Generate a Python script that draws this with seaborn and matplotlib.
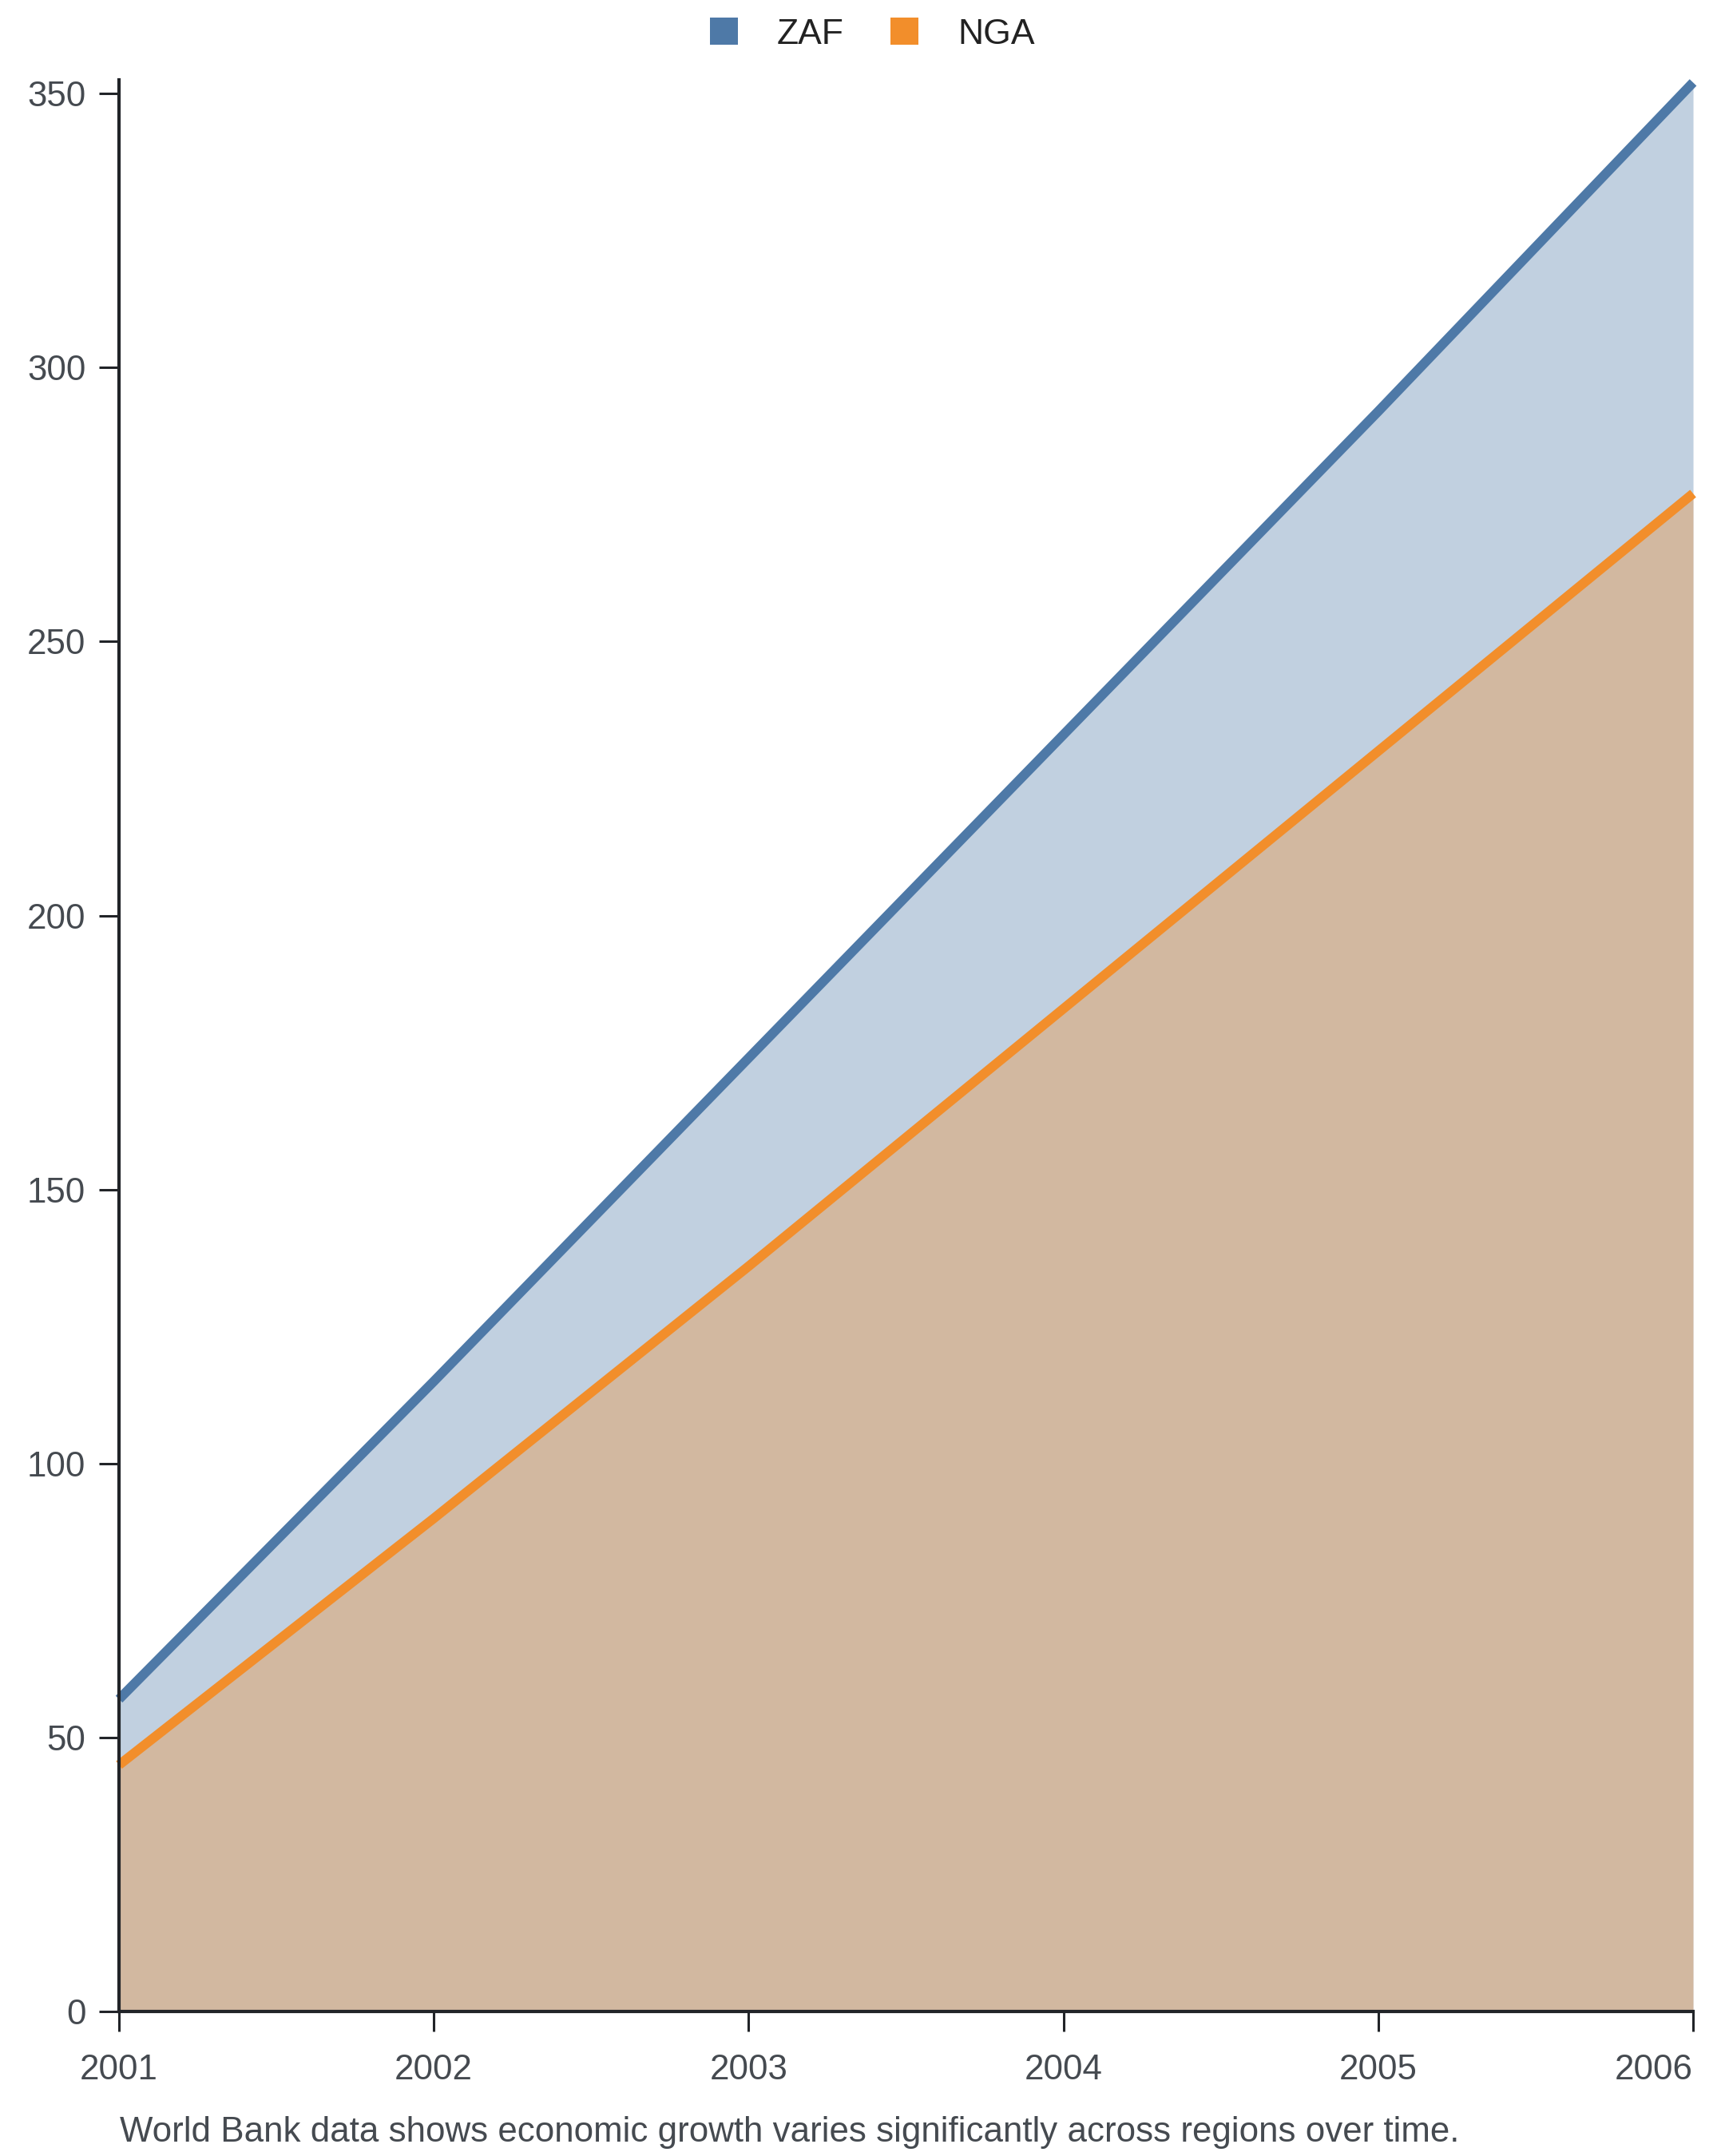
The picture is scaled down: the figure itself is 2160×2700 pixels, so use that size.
import matplotlib
matplotlib.use("Agg")
import matplotlib.pyplot as plt
import seaborn as sns
import pandas as pd
from matplotlib.patches import Patch

years = [2001, 2002, 2003, 2004, 2005, 2006]
zaf = [57, 115, 174, 233, 292, 352]
nga = [45, 90, 136, 183, 230, 277]
series_names = ["ZAF", "NGA"]
series_colors = ["#4e79a7", "#f28e2b"]
y_ticks = [0, 50, 100, 150, 200, 250, 300, 350]
caption = "World Bank data shows economic growth varies significantly across regions over time."

df = pd.DataFrame({
    "year": years * 2,
    "value": zaf + nga,
    "country": ["ZAF"] * len(years) + ["NGA"] * len(years),
})

sns.set_theme(style="white")
plt.rcParams["font.family"] = ["Liberation Sans", "DejaVu Sans"]

fig = plt.figure(figsize=(10.8, 13.5), dpi=200)
ax = fig.add_axes([0.069, 0.067, 0.9125, 0.896])

palette = dict(zip(series_names, series_colors))
for name in series_names:
    sub = df[df["country"] == name]
    ax.fill_between(sub["year"], 0, sub["value"], color=palette[name], alpha=0.35, linewidth=0, zorder=1)

sns.lineplot(data=df, x="year", y="value", hue="country", hue_order=series_names,
             palette=palette, linewidth=4.3, ax=ax, legend=False, zorder=3, estimator=None)
for ln in ax.lines:
    ln.set_clip_on(False)
    ln.set_solid_capstyle("butt")

ax.set_xlim(2001, 2006)
ax.set_ylim(0, 352.5)
ax.set_xticks(years)
ax.set_xticklabels([str(y) for y in years])
ax.set_yticks(y_ticks)
ax.set_yticklabels([str(v) for v in y_ticks])
ax.set_xlabel("")
ax.set_ylabel("")

for s in ["top", "right"]:
    ax.spines[s].set_visible(False)
for s in ["left", "bottom"]:
    ax.spines[s].set_color("#212428")
    ax.spines[s].set_linewidth(1.5)
    ax.spines[s].set_zorder(5)

ax.tick_params(axis="x", direction="out", length=9, width=1.1, color="#212428",
               pad=10, labelsize=15.8, labelcolor="#454a50", bottom=True)
ax.tick_params(axis="y", direction="out", length=9, width=1.1, color="#212428",
               pad=6, labelsize=15.8, labelcolor="#454a50", left=True)
labels = ax.get_xticklabels()
labels[-1].set_horizontalalignment("right")
ax.grid(False)

handles = [Patch(facecolor=c, edgecolor="none", label=n) for n, c in zip(series_names, series_colors)]
fig.legend(handles=handles, loc="center", bbox_to_anchor=(0.5056, 0.984), ncol=2, frameon=False,
           fontsize=16, handlelength=0.8, handleheight=0.8, handletextpad=1.1,
           columnspacing=1.3, labelcolor="#222222")

fig.text(0.0695, 0.0068, caption, ha="left", va="baseline", fontsize=15.8, color="#454a50")

fig.savefig("out.png", dpi=200, facecolor="white")
